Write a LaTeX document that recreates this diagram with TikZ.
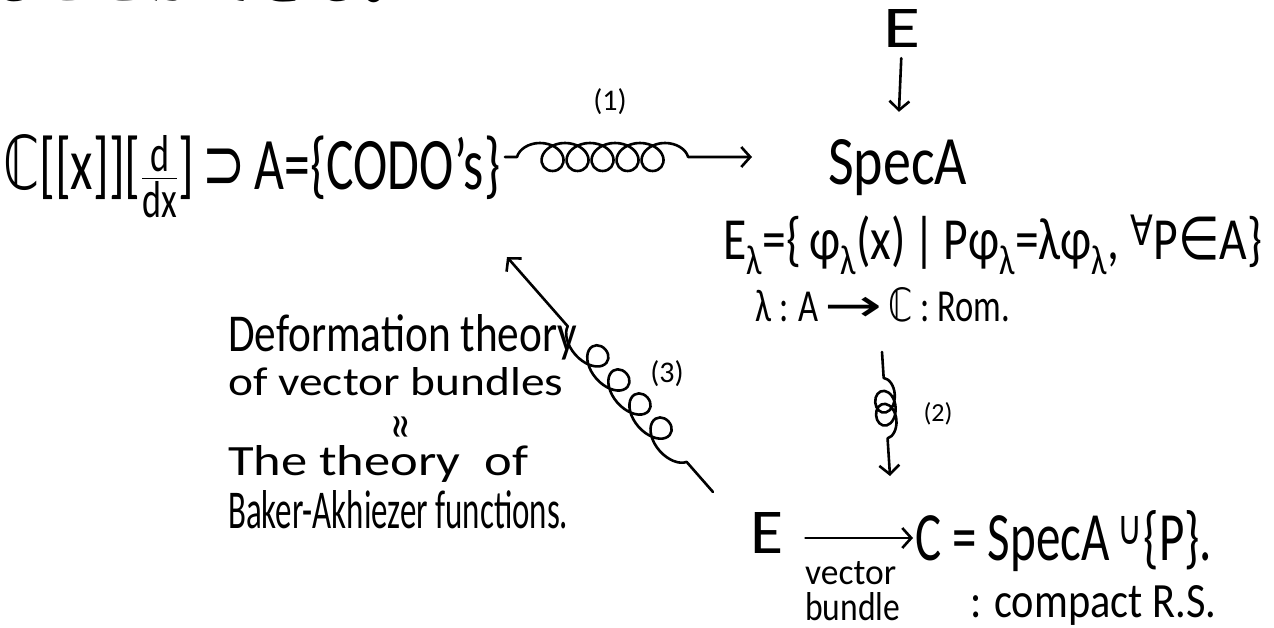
\documentclass[tikz,border=0pt]{standalone}
\usepackage{fontspec}
\usepackage{amsmath}
\usepackage{graphicx}
\setmainfont{Carlito}
\newfontfamily\dv{DejaVu Sans}
\newfontfamily\jp{Noto Sans CJK JP}
\usetikzlibrary{decorations.pathmorphing,arrows.meta}
\newcommand\fitto[3]{\resizebox{#1}{#2}{#3}}
\begin{document}
\begin{tikzpicture}[x=1pt,y=-1pt,
  txt/.style={inner sep=0pt,anchor=base west,font=\fontsize{40}{48}\selectfont},
  lbl/.style={inner sep=0pt,anchor=center},
  hand/.style={line width=2.6pt,line cap=round,line join=round},
  tip/.style={-{Straight Barb[length=9pt,width=20pt]}}]
\useasboundingbox (0,0) rectangle (1274,628);
% cut-off Japanese line at the top
\node[txt] (jp) at (-14,0) {\jp\fontsize{54}{60}\selectfont ることができる。};
% main row
\node[txt] (Amain) at (3,190) {\fitto{497pt}{55pt}{{\dv ℂ}[[x]][$\frac{\text{d}}{\text{dx}}$]\,{\dv ⊃}\,A=\{CODO’s\}}};
\node[lbl] (one) at (610,102) {\fontsize{30}{34}\selectfont (1)};
\node[txt] (Etop) at (883,48) {\fitto{37pt}{38pt}{E}};
\node[txt] (spec) at (828,185) {\fitto{139pt}{45pt}{SpecA}};
\node[txt] (elam) at (723,259) {\fitto{539pt}{44pt}{E\textsubscript{λ}=\{\,φ\textsubscript{λ}(x)\,|\,Pφ\textsubscript{λ}=λφ\textsubscript{λ}, \textsuperscript{\dv ∀}P{\dv ∈}A\}}};
\node[txt] (lamrow) at (755,321) {\fitto{255pt}{34pt}{λ : A\,\scalebox{2}[1]{\dv →}\,{\dv ℂ} : Rom.}};
\node[lbl] (two) at (938,414) {\fontsize{26}{30}\selectfont (2)};
% bottom right
\node[txt] (Ebot) at (750,553) {\fitto{33pt}{41pt}{E}};
\node[txt] (Cset) at (915,560) {\fitto{297pt}{50pt}{C = SpecA\,\textsuperscript{\dv ∪}\{P\}.}};
\node[txt] (vec) at (805,584) {\fitto{91pt}{23pt}{vector}};
\node[txt] (bun) at (805,620) {\fitto{95pt}{28pt}{bundle}};
\node[txt] (cpt) at (970,617) {\fitto{246pt}{32pt}{: compact R.S.}};
% left block
\node[txt] (def1) at (228,352) {\fitto{349pt}{37pt}{Deformation theory}};
\node[txt] (def2) at (228,395) {\fitto{335pt}{28pt}{of vector bundles}};
\node[lbl] (iso) at (403,427) {\fitto{20pt}{27pt}{\rotatebox{90}{\dv ≈}}};
\node[txt] (the) at (228,475) {\fitto{300pt}{30pt}{The theory\ \ of}};
\node[txt] (bak) at (228,528) {\fitto{340pt}{38pt}{Baker-Akhiezer functions.}};
\node[lbl] (three) at (667,374) {\fontsize{30}{34}\selectfont (3)};
% connectors
\coordinate (a1s) at (505,157);
\coordinate (a1e) at (752,157);
\draw[hand,tip,decorate,decoration={coil,aspect=1.2,amplitude=14pt,segment length=25pt,pre length=12pt,post length=52pt}] (a1s) -- (a1e);
\draw[hand,tip,shorten <=10pt,shorten >=28pt] (Etop.south) -- (spec.north);
\coordinate (a2s) at (882,352);
\coordinate (a2e) at (890,476);
\draw[hand,tip,decorate,decoration={coil,aspect=1.4,amplitude=10pt,segment length=13pt,pre length=26pt,post length=30pt}] (a2s) -- (a2e);
\draw[hand,tip,shorten <=22pt,shorten >=2pt] ([yshift=-5.5pt]Ebot.east) -- ([yshift=-5.5pt]Ebot.east -| Cset.west);
\coordinate (a3s) at (713,492);
\coordinate (a3e) at (507,257);
\draw[hand,tip,decorate,decoration={coil,aspect=1.4,amplitude=13pt,segment length=32pt,pre length=40pt,post length=90pt}] (a3s) -- (a3e);
\end{tikzpicture}
\end{document}
